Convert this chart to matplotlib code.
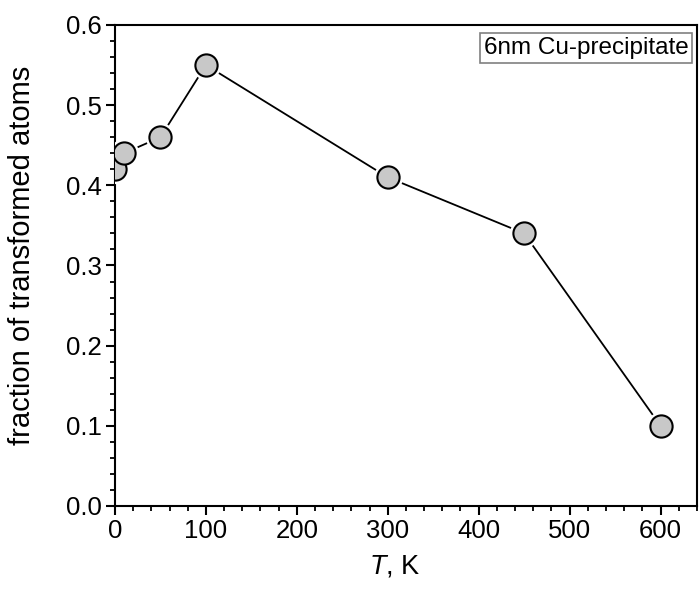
import matplotlib
matplotlib.use("Agg")
import matplotlib.pyplot as plt
from matplotlib.ticker import MultipleLocator

# dados
temperatura = [0, 10, 50, 100, 300, 450, 600]
fracao = [0.42, 0.44, 0.46, 0.55, 0.41, 0.34, 0.10]
rotulo = "6nm Cu-precipitate"

plt.rcParams['font.family'] = ['Liberation Sans', 'DejaVu Sans']
plt.rcParams['mathtext.fontset'] = 'custom'
plt.rcParams['mathtext.it'] = 'Liberation Sans:italic'
plt.rcParams['mathtext.rm'] = 'Liberation Sans'

fig = plt.figure(figsize=(6.99, 5.92), dpi=100)
ax = fig.add_axes([0.1645, 0.1453, 0.8325, 0.8125])

# linha
ax.plot(temperatura, fracao, color='black', lw=1.3, zorder=2)
# halo branco para deixar um espaço entre linha e marcador
ax.plot(temperatura, fracao, ls='none', marker='o', ms=21, mfc='white',
        mec='white', mew=0, zorder=3)
ax.plot(temperatura, fracao, ls='none', marker='o', ms=16, mfc='#c8c8c8',
        mec='black', mew=1.5, zorder=4)

ax.set_xlim(0, 640)
ax.set_ylim(0, 0.6)
ax.xaxis.set_major_locator(MultipleLocator(100))
ax.xaxis.set_minor_locator(MultipleLocator(20))
ax.yaxis.set_major_locator(MultipleLocator(0.1))
ax.yaxis.set_minor_locator(MultipleLocator(0.02))
ax.yaxis.set_major_formatter(plt.FormatStrFormatter('%.1f'))

ax.tick_params(which='major', direction='out', length=6.5, width=1.5,
               labelsize=18.5, pad=3)
ax.tick_params(which='minor', direction='out', length=3.6, width=1.3)
for s in ax.spines.values():
    s.set_linewidth(1.5)

ax.set_xlabel(r"$T$, K", fontsize=19.5)
ax.set_ylabel("fraction of transformed atoms", fontsize=21)
ax.xaxis.set_label_coords(0.48, -0.098)
ax.yaxis.set_label_coords(-0.136, 0.52)

ax.text(0.986, 0.952, rotulo, transform=ax.transAxes, ha='right', va='center',
        fontsize=17.5, bbox=dict(boxstyle='square,pad=0.15', fc='white',
                                 ec='#808080', lw=1.2))

fig.savefig("out.png", dpi=100)
